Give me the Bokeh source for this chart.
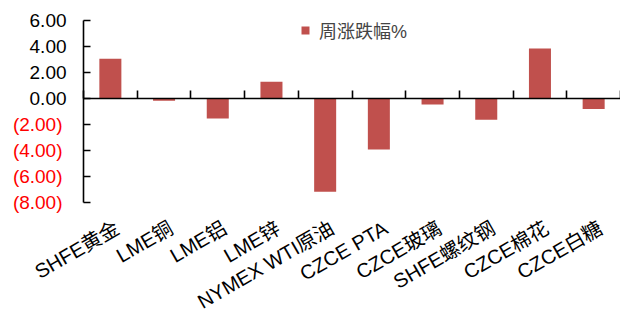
import math
from bokeh.plotting import figure
from bokeh.models import (Range1d, FixedTicker, Legend, LegendItem, LinearAxis,
                          CustomJSTickFormatter)
from bokeh.embed import file_html
from bokeh.resources import INLINE

categories = ["SHFE黄金", "LME铜", "LME铝", "LME锌", "NYMEX WTI原油", "CZCE PTA",
              "CZCE玻璃", "SHFE螺纹钢", "CZCE棉花", "CZCE白糖"]
values = [3.05, -0.18, -1.54, 1.28, -7.18, -3.92, -0.46, -1.64, 3.85, -0.80]
series_name = "周涨跌幅%"
y_ticks = [-8, -6, -4, -2, 0, 2, 4, 6]

FONT = "'Liberation Sans', 'Noto Sans CJK SC'"
BAR = "#C0504D"

n = len(categories)
LEFT_PAD = 1.397  # room (in category units) for the y tick labels inside the frame
Y_PAD = 1.0       # room above/below the value axis so end labels are not clipped
LABEL_SHIFT = 0.13  # rotated category labels end slightly right of the bar centre

p = figure(frame_width=612, frame_height=208, output_backend="svg", toolbar_location=None,
           x_range=Range1d(-LEFT_PAD, n), y_range=Range1d(-8 - Y_PAD, 6 + Y_PAD),
           min_border_left=8, min_border_right=0, min_border_top=7, min_border_bottom=100)
p.outline_line_color = None
p.grid.visible = False
p.background_fill_color = None

centers = [i + 0.5 for i in range(n)]
r = p.vbar(x=centers, top=values, bottom=0, width=0.41, fill_color=BAR, line_color=None)

# bottom axis: category labels only
label_pos = [c + LABEL_SHIFT for c in centers]
xa = p.xaxis[0]
xa.ticker = FixedTicker(ticks=label_pos)
xa.major_label_overrides = {c: lab for c, lab in zip(label_pos, categories)}
xa.major_label_orientation = math.pi / 6
xa.axis_line_color = None
xa.major_tick_line_color = None
xa.minor_tick_line_color = None
xa.major_label_text_font = FONT
xa.major_label_text_font_size = "20px"
xa.major_label_text_color = "black"
xa.major_label_standoff = 5

# zero line axis with category boundary ticks pointing up
zx = LinearAxis(fixed_location=0, bounds=(0, n),
                ticker=FixedTicker(ticks=list(range(n + 1)), minor_ticks=[]),
                formatter=CustomJSTickFormatter(code="return '';"),
                axis_line_color="black", axis_line_width=1.6,
                major_tick_line_color="black", major_tick_line_width=1.6,
                major_tick_in=8, major_tick_out=0, minor_tick_line_color=None)
p.add_layout(zx, "below")

# y axis (black, non-negative labels)
ya = p.yaxis[0]
ya.fixed_location = 0
ya.bounds = (-8, 6)
ya.ticker = FixedTicker(ticks=y_ticks)
ya.formatter = CustomJSTickFormatter(code="return tick >= 0 ? tick.toFixed(2) : '';")
ya.axis_line_color = "black"
ya.axis_line_width = 1.6
ya.major_tick_line_color = "black"
ya.major_tick_line_width = 1.6
ya.major_tick_in = 7
ya.major_tick_out = 0
ya.minor_tick_line_color = None
ya.major_label_text_font = FONT
ya.major_label_text_font_size = "19px"
ya.major_label_text_color = "black"
ya.major_label_standoff = 17

# y axis overlay (red, negative labels in parentheses)
yneg = LinearAxis(fixed_location=0, bounds=(-8, 6), ticker=FixedTicker(ticks=y_ticks),
                  formatter=CustomJSTickFormatter(
                      code="return tick < 0 ? '(' + Math.abs(tick).toFixed(2) + ')' : '';"),
                  axis_line_color=None, major_tick_line_color=None, minor_tick_line_color=None,
                  major_label_text_font=FONT, major_label_text_font_size="19px",
                  major_label_text_color="#FF0000", major_label_standoff=15)
p.add_layout(yneg, "left")

legend = Legend(items=[LegendItem(label=series_name, renderers=[r])], location=(292, 172),
                glyph_width=10, glyph_height=10, label_standoff=9, padding=0, margin=0,
                border_line_color=None, background_fill_alpha=0,
                label_text_font=FONT, label_text_font_size="18px", label_height=20)
p.add_layout(legend)

open("out.html", "w").write(file_html(p, INLINE))
